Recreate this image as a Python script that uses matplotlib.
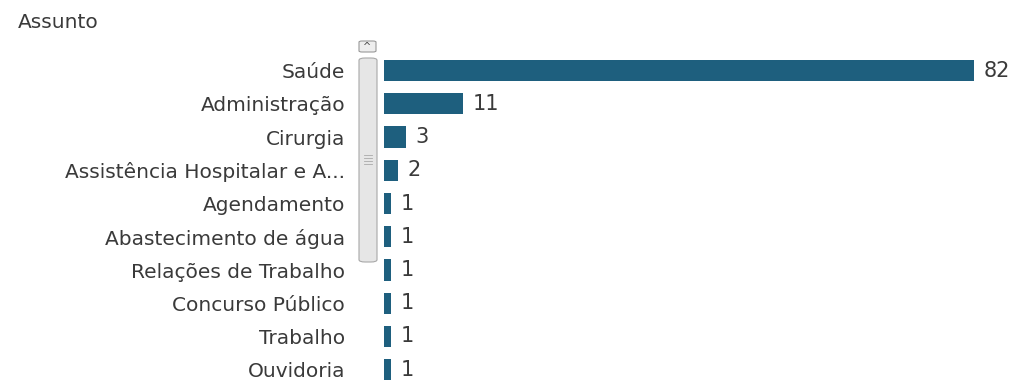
import matplotlib.pyplot as plt
from matplotlib.patches import FancyBboxPatch

W, H = 1013, 385

assuntos = [
    "Saúde",
    "Administração",
    "Cirurgia",
    "Assistência Hospitalar e A...",
    "Agendamento",
    "Abastecimento de água",
    "Relações de Trabalho",
    "Concurso Público",
    "Trabalho",
    "Ouvidoria",
]
quantidades = [82, 11, 3, 2, 1, 1, 1, 1, 1, 1]

bar_color = "#1e5f7e"
text_color = "#3a3a3a"
fs = 14.5

fig = plt.figure(figsize=(W / 100, H / 100), dpi=100)

# axes placed in pixel terms: left edge of bars at x=384, rows from y=54 to bottom
ax = fig.add_axes([384 / W, 0, (W - 384) / W, (H - 54) / H])

y = list(range(len(assuntos)))
ax.barh(y, quantidades, height=0.64, color=bar_color)

for yi, v in zip(y, quantidades):
    ax.text(v + 1.3, yi, str(v), va="center", ha="left",
            fontsize=15, color=text_color)

ax.set_xlim(0, (W - 384) / 7.195)
ax.set_ylim(9.46, -0.5)
ax.set_yticks(y)
ax.set_yticklabels(assuntos, fontsize=fs, color=text_color)
ax.tick_params(axis="y", length=0, pad=28)
ax.set_xticks([])
for s in ax.spines.values():
    s.set_visible(False)

fig.text(18 / W, 1 - 22 / H, "Assunto", fontsize=fs, color=text_color,
         va="center", ha="left")

# scrollbar decoration
def px_box(x0, y0, x1, y1, **kw):
    return FancyBboxPatch((x0 / W, 1 - y1 / H), (x1 - x0) / W, (y1 - y0) / H,
                          transform=fig.transFigure, **kw)

fig.patches.append(px_box(359, 41, 376, 52, boxstyle="round,pad=0,rounding_size=0.003",
                          facecolor="#eeeeee", edgecolor="#999999", linewidth=0.8))
fig.text(367.5 / W, 1 - 47 / H, "^", fontsize=7, color="#444444",
         ha="center", va="center")
fig.patches.append(px_box(359, 58, 377, 262, boxstyle="round,pad=0,rounding_size=0.006",
                          facecolor="#e6e6e6", edgecolor="#a8a8a8", linewidth=0.8))
for gy in [155, 158, 161, 164]:
    fig.lines.append(plt.Line2D([364 / W, 372 / W], [1 - gy / H, 1 - gy / H],
                                transform=fig.transFigure, color="#aaaaaa", linewidth=0.6))

fig.savefig("out.png", dpi=100)
